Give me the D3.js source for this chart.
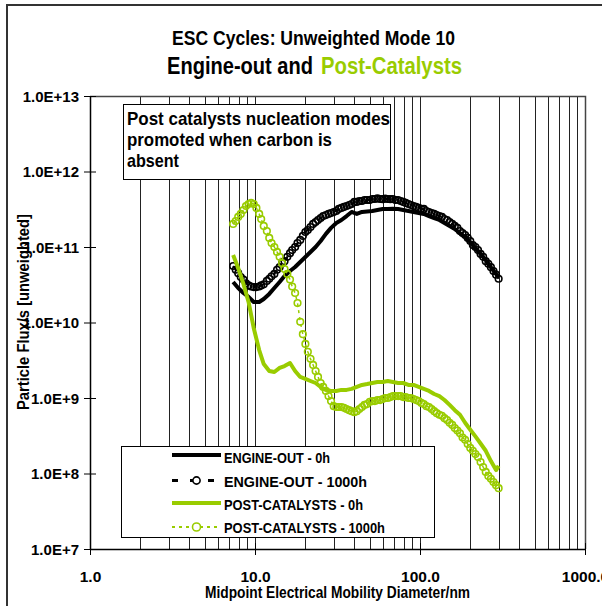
<!DOCTYPE html>
<html><head><meta charset="utf-8">
<script src="https://cdn.jsdelivr.net/npm/d3@7"></script>
<style>
body{margin:0;background:#fff}
svg{display:block}
text{font-family:"Liberation Sans Narrow","Arial Narrow","Liberation Sans",Arial,sans-serif;font-weight:bold;fill:#000}
</style>
</head><body>
<svg id="c" width="602" height="606"></svg>
<script>
// ---------- DATA ----------
const diameters = [7.37,7.64,7.91,8.20,8.51,8.82,9.14,9.47,9.82,10.2,
  10.6,10.9,11.3,11.8,12.2,12.6,13.1,13.6,14.1,14.6,
  15.1,15.7,16.3,16.8,17.5,18.1,18.8,19.5,20.2,20.9,
  21.7,22.5,23.3,24.1,25.0,25.9,26.9,27.9,28.9,30.0,
  31.1,32.2,33.4,34.6,35.9,37.2,38.5,40.0,41.4,42.9,
  44.5,46.1,47.8,49.6,51.4,53.3,55.2,57.3,59.4,61.5,
  63.8,66.1,68.5,71.0,73.7,76.4,79.1,82.0,85.1,88.2,
  91.4,94.7,98.2,101.8,105.5,109.4,113.4,117.6,121.9,126.3,
  131.0,135.8,140.7,145.9,151.2,156.8,162.5,168.5,174.7,181.1,
  187.7,194.6,201.7,209.1,216.7,224.7,232.9,241.4,250.3,259.5,
  269.0,278.8,289.0,299.6];

const diamSolid = [7.37,7.91,8.51,9.14,9.82,10.6,11.3,12.2,13.1,14.1,
  15.1,16.3,17.5,18.8,20.2,21.7,23.3,25.0,26.9,28.9,
  31.1,33.4,35.9,38.5,41.4,44.5,47.8,51.4,55.2,59.4,
  63.8,68.5,73.7,79.1,85.1,91.4,98.2,105.5,113.4,121.9,
  131.0,140.7,151.2,162.5,174.7,187.7,201.7,216.7,232.9,250.3,
  269.0,289.0,299.6];

const engineOut0h = [3.44e10,2.86e10,2.46e10,2.18e10,1.87e10,1.87e10,2.05e10,2.39e10,2.86e10,3.44e10,
  4.13e10,4.81e10,5.43e10,6.33e10,7.37e10,8.59e10,1.0e11,1.2e11,1.49e11,1.79e11,
  2.08e11,2.28e11,2.57e11,2.91e11,2.74e11,2.91e11,2.95e11,3.0e11,3.09e11,3.19e11,
  3.19e11,3.22e11,3.19e11,3.09e11,3.0e11,2.91e11,2.82e11,2.74e11,2.57e11,2.42e11,
  2.28e11,2.08e11,1.9e11,1.73e11,1.53e11,1.36e11,1.16e11,9.7e10,8.1e10,6.7e10,
  5.4e10,4.4e10,4.0e10];

const engineOut1000h = [5.6e10,5.0e10,4.5e10,4.0e10,3.7e10,3.3e10,3.1e10,3.0e10,2.95e10,2.95e10,
  3.0e10,3.1e10,3.2e10,3.55e10,3.8e10,4.1e10,4.4e10,5.0e10,5.4e10,6.1e10,
  6.5e10,7.4e10,8.3e10,9.1e10,1.0e11,1.13e11,1.24e11,1.40e11,1.58e11,1.68e11,
  1.84e11,2.02e11,2.14e11,2.28e11,2.42e11,2.57e11,2.65e11,2.74e11,2.82e11,2.91e11,
  3.0e11,3.19e11,3.29e11,3.39e11,3.49e11,3.6e11,3.71e11,3.95e11,3.95e11,4.07e11,
  4.07e11,4.19e11,4.19e11,4.19e11,4.32e11,4.32e11,4.4e11,4.32e11,4.3e11,4.36e11,
  4.32e11,4.3e11,4.32e11,4.19e11,4.19e11,4.07e11,3.95e11,3.83e11,3.71e11,3.6e11,
  3.49e11,3.39e11,3.29e11,3.19e11,3.19e11,3.0e11,2.91e11,2.82e11,2.74e11,2.65e11,
  2.57e11,2.50e11,2.35e11,2.28e11,2.14e11,2.02e11,1.90e11,1.79e11,1.63e11,1.53e11,
  1.44e11,1.32e11,1.20e11,1.06e11,1.0e11,9.1e10,8.1e10,7.4e10,6.5e10,6.0e10,
  5.4e10,4.8e10,4.3e10,3.8e10];

const postCat0h = [7.83e10,5.27e10,3.24e10,1.87e10,8.46e9,4.32e9,2.82e9,2.28e9,2.21e9,2.5e9,
  2.65e9,2.91e9,2.28e9,1.9e9,1.79e9,1.68e9,1.58e9,1.4e9,1.28e9,1.24e9,
  1.24e9,1.28e9,1.28e9,1.32e9,1.4e9,1.49e9,1.53e9,1.58e9,1.63e9,1.63e9,
  1.68e9,1.63e9,1.58e9,1.58e9,1.49e9,1.49e9,1.4e9,1.32e9,1.24e9,1.13e9,
  1.06e9,9.4e8,8.1e8,6.9e8,6.0e8,4.7e8,3.8e8,3.1e8,2.5e8,2.0e8,
  1.46e8,1.11e8,1.26e8];

const postCat1000h = [2.02e11,2.21e11,2.5e11,2.74e11,3.09e11,3.49e11,3.71e11,3.83e11,3.71e11,3.29e11,
  2.74e11,2.35e11,1.9e11,1.63e11,1.32e11,1.13e11,1.0e11,8.6e10,7.4e10,6.1e10,
  5.1e10,4.4e10,3.7e10,3.0e10,2.46e10,1.81e10,1.02e10,7.0e9,5.2e9,4.1e9,
  3.3e9,2.74e9,2.28e9,1.9e9,1.58e9,1.4e9,1.24e9,1.06e9,9.1e8,7.8e8,
  7.6e8,7.6e8,7.6e8,7.4e8,7.15e8,6.9e8,6.7e8,6.5e8,6.7e8,7.15e8,
  7.6e8,8.1e8,8.3e8,8.9e8,9.1e8,9.1e8,9.4e8,9.4e8,9.7e8,1.0e9,
  1.0e9,1.03e9,1.06e9,1.06e9,1.06e9,1.06e9,1.03e9,1.03e9,1.0e9,1.0e9,
  9.7e8,9.4e8,9.1e8,8.6e8,8.3e8,7.8e8,7.6e8,7.15e8,6.7e8,6.3e8,
  6.0e8,5.8e8,5.4e8,5.1e8,4.7e8,4.4e8,4.0e8,3.7e8,3.4e8,3.0e8,
  2.8e8,2.46e8,2.18e8,2.0e8,1.81e8,1.65e8,1.42e8,1.22e8,1.05e8,9.3e7,
  8.5e7,7.7e7,7.0e7,6.4e7];

const seriesNames = ["ENGINE-OUT - 0h","ENGINE-OUT - 1000h","POST-CATALYSTS - 0h","POST-CATALYSTS - 1000h"];
const xTickValues = [1,10,100,1000];
const xTickLabels = ["1.0","10.0","100.0","1000.0"];
const yTickValues = [1e7,1e8,1e9,1e10,1e11,1e12,1e13];
const yTickLabels = ["1.0E+7","1.0E+8","1.0E+9","1.0E+10","1.0E+11","1.0E+12","1.0E+13"];
const titleLine1 = "ESC Cycles: Unweighted Mode 10";
const titleLine2a = "Engine-out and";
const titleLine2b = "Post-Catalysts";
const xTitle = "Midpoint Electrical Mobility Diameter/nm";
const yTitle = "Particle Flux/s [unweighted]";
const noteLines = ["Post catalysts nucleation modes","promoted when carbon is","absent"];

// ---------- DRAW ----------
const GREEN = "#99cc00";
const L = 90, R = 585, T = 96, B = 549;
const svg = d3.select("#c");
const x = d3.scaleLog().domain([1,1000]).range([L,R]);
const y = d3.scaleLog().domain([1e7,1e13]).range([B,T]);

// narrow-looking bold text: smaller font stretched vertically
function narrowText(parent, s, px, py, size, width, anchor, color){
  const t = parent.append("text")
    .attr("transform",`translate(${px},${py}) scale(1,1.2)`)
    .attr("font-size",size)
    .attr("text-anchor",anchor||"start")
    .text(s);
  if (width) t.attr("textLength",width).attr("lengthAdjust","spacingAndGlyphs");
  if (color) t.style("fill",color);
  return t;
}

// outer frame
svg.append("path").attr("d","M7,606V5H602").attr("fill","none").attr("stroke","#333").attr("stroke-width",2);

// titles
narrowText(svg, titleLine1, 313.5, 45, 17.5, 283, "middle");
narrowText(svg, titleLine2a, 167, 74, 20, 146, "start");
narrowText(svg, titleLine2b, 321, 74, 20, 141, "start", GREEN);

// vertical gridlines
const gridVals = x.ticks().filter(v => v > 1 && v < 1000);
svg.append("g").selectAll("line").data(gridVals).join("line")
  .attr("x1",d=>Math.round(x(d))+0.5).attr("x2",d=>Math.round(x(d))+0.5)
  .attr("y1",T).attr("y2",B).attr("stroke","#222").attr("stroke-width",1);

// plot frame top/right
svg.append("path").attr("d",`M${L},${T+0.5}H${R+0.5}V${B}`).attr("fill","none").attr("stroke","#444").attr("stroke-width",1.5);

// axes
const yAxis = d3.axisLeft(y).tickValues(yTickValues).tickFormat((d,i)=>yTickLabels[i]).tickSizeInner(6).tickSizeOuter(0).tickPadding(5);
const gy = svg.append("g").attr("transform",`translate(${L},0)`).call(yAxis);
gy.attr("font-family",null);
gy.select(".domain").attr("stroke","#000").attr("stroke-width",1.5);
gy.selectAll(".tick line").attr("x1",6).attr("stroke","#000").attr("stroke-width",1);
gy.selectAll("text").attr("font-size",15).style("font-weight","bold").attr("dy","0.35em");

const xAxis = d3.axisBottom(x).tickValues(xTickValues).tickFormat((d,i)=>xTickLabels[i]).tickSizeInner(6).tickSizeOuter(0).tickPadding(27);
const gx = svg.append("g").attr("transform",`translate(0,${B})`).call(xAxis);
gx.attr("font-family",null);
gx.select(".domain").attr("stroke","#000").attr("stroke-width",1.5);
gx.selectAll(".tick line").attr("y1",-6).attr("stroke","#000").attr("stroke-width",1);
gx.selectAll("text").attr("font-size",15.5).style("font-weight","bold").attr("dy","0");

// axis titles
svg.append("text").attr("x",337.5).attr("y",598).attr("text-anchor","middle")
  .attr("font-size",16).attr("textLength",265).attr("lengthAdjust","spacingAndGlyphs").text(xTitle);
svg.append("text").attr("transform","translate(29,312) rotate(-90)").attr("text-anchor","middle")
  .attr("font-size",16).attr("textLength",196).attr("lengthAdjust","spacingAndGlyphs").text(yTitle);

// series
const line = d3.line().x(d=>x(d[0])).y(d=>y(d[1]));
const eo0 = diamSolid.map((d,i)=>[d,engineOut0h[i]]);
const eo1 = diameters.map((d,i)=>[d,engineOut1000h[i]]);
const pc0 = diamSolid.map((d,i)=>[d,postCat0h[i]]);
const pc1 = diameters.map((d,i)=>[d,postCat1000h[i]]);

const gS = svg.append("g");
gS.append("path").datum(eo0).attr("d",line).attr("fill","none").attr("stroke","#000").attr("stroke-width",4).attr("stroke-linejoin","round");
gS.append("path").datum(eo1).attr("d",line).attr("fill","none").attr("stroke","#000").attr("stroke-width",2).attr("stroke-dasharray","6,12");
gS.append("g").selectAll("circle").data(eo1).join("circle")
  .attr("cx",d=>x(d[0])).attr("cy",d=>y(d[1])).attr("r",3.3)
  .attr("fill","none").attr("stroke","#000").attr("stroke-width",1.6);
gS.append("path").datum(pc0).attr("d",line).attr("fill","none").attr("stroke",GREEN).attr("stroke-width",4).attr("stroke-linejoin","round");
gS.append("path").datum(pc1).attr("d",line).attr("fill","none").attr("stroke",GREEN).attr("stroke-width",1.5).attr("stroke-dasharray","3,4");
gS.append("g").selectAll("circle").data(pc1).join("circle")
  .attr("cx",d=>x(d[0])).attr("cy",d=>y(d[1])).attr("r",3.3)
  .attr("fill","none").attr("stroke",GREEN).attr("stroke-width",1.6);

// annotation box
svg.append("rect").attr("x",123.5).attr("y",104.5).attr("width",267).attr("height",75)
  .attr("fill","#fff").attr("stroke","#000").attr("stroke-width",1);
const noteY = [125,146,166.5];
const noteW = [263,205,52];
noteLines.forEach((s,i)=>{
  svg.append("text").attr("x",127).attr("y",noteY[i]).attr("font-size",19)
    .attr("textLength",noteW[i]).attr("lengthAdjust","spacingAndGlyphs").text(s);
});

// legend
svg.append("rect").attr("x",121.5).attr("y",446.5).attr("width",313).attr("height",91)
  .attr("fill","#fff").attr("stroke","#000").attr("stroke-width",1);
const legLineY = [455,480.5,503,527];
const legTextY = [463,487,509.5,533];
const legW = [106,143,139,161];
const lx1 = 172, lx2 = 221, lcx = 196.5;
const lg = svg.append("g");
lg.append("line").attr("x1",lx1).attr("x2",lx2).attr("y1",legLineY[0]).attr("y2",legLineY[0]).attr("stroke","#000").attr("stroke-width",4);
lg.append("line").attr("x1",lx1).attr("x2",lx2).attr("y1",legLineY[1]).attr("y2",legLineY[1]).attr("stroke","#000").attr("stroke-width",3).attr("stroke-dasharray","6,12");
lg.append("circle").attr("cx",lcx).attr("cy",legLineY[1]).attr("r",3.6).attr("fill","#fff").attr("stroke","#000").attr("stroke-width",1.6);
lg.append("line").attr("x1",lx1).attr("x2",lx2).attr("y1",legLineY[2]).attr("y2",legLineY[2]).attr("stroke",GREEN).attr("stroke-width",4);
lg.append("line").attr("x1",lx1).attr("x2",lx2).attr("y1",legLineY[3]).attr("y2",legLineY[3]).attr("stroke",GREEN).attr("stroke-width",1.8).attr("stroke-dasharray","3,4");
lg.append("circle").attr("cx",lcx).attr("cy",legLineY[3]).attr("r",4).attr("fill","#fff").attr("stroke",GREEN).attr("stroke-width",1.6);
seriesNames.forEach((s,i)=>{
  lg.append("text").attr("x",224).attr("y",legTextY[i]).attr("font-size",15.5)
    .attr("textLength",legW[i]).attr("lengthAdjust","spacingAndGlyphs").text(s);
});
</script>
</body></html>
